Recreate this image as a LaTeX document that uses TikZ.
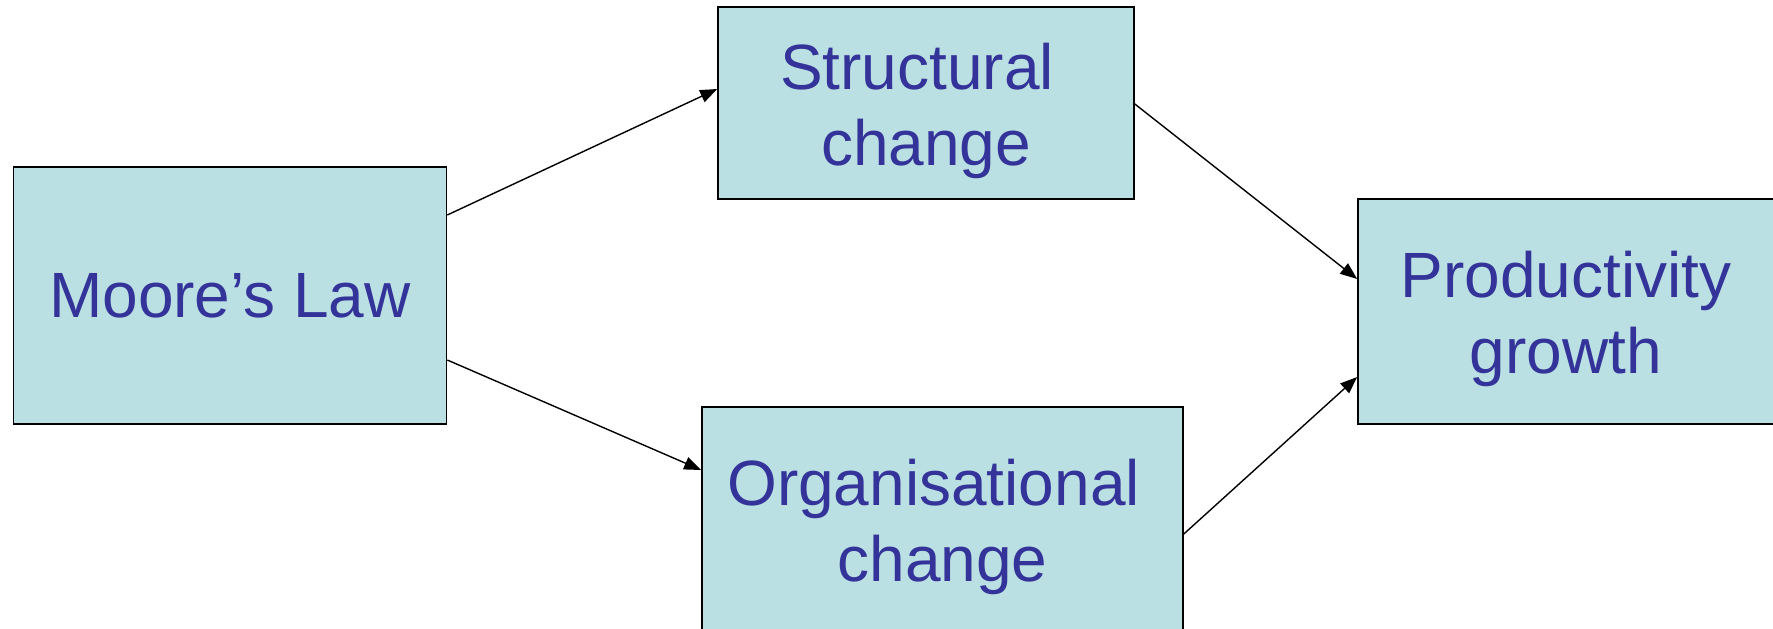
\documentclass[tikz,border=0pt]{standalone}
\usepackage{fontspec}
\setmainfont{Liberation Sans}
\usetikzlibrary{arrows.meta}
\definecolor{boxfill}{HTML}{BBE0E3}
\definecolor{boxtext}{HTML}{333399}
\begin{document}
\begin{tikzpicture}[
    x=1pt, y=-1pt,
    box/.style={rectangle, draw, line width=1.6pt, fill=boxfill, inner sep=0pt},
    boxlabel/.style={text=boxtext, align=center, inner sep=0pt, font=\fontsize{64}{76}\selectfont},
    link/.style={line width=1.4pt, -{Triangle[length=17pt, width=13pt]}}
]
\useasboundingbox (0, 0) rectangle (1773, 629);
\clip (0, 0) rectangle (1773, 629);

\node[box, boxlabel, minimum width=433pt, minimum height=257pt] (moore) at (230, 295.5) {Moore’s Law};
\node[box, minimum width=416pt, minimum height=192pt] (struct) at (926, 103) {};
\node[box, minimum width=481pt, minimum height=293pt] (org) at (942.5, 553.5) {};
\node[box, minimum width=417pt, minimum height=225pt] (prod) at (1566.5, 311.5) {};

\node[boxlabel] (structlbl) at (926, 110.8) {Structural\hspace*{0.278em}\\change};
\node[boxlabel] (orglbl) at (942.5, 526.8) {Organisational\hspace*{0.278em}\\change};
\node[boxlabel] (prodlbl) at (1566, 319) {Productivity\\growth};

\draw[link] ([yshift=80.5pt]moore.east) -- ([yshift=14pt]struct.west);
\draw[link] ([yshift=-64.5pt]moore.east) -- ([yshift=83.5pt]org.west);
\draw[link] ([yshift=-1pt]struct.east) -- ([yshift=32.5pt]prod.west);
\draw[link] ([yshift=19.5pt]org.east) -- ([yshift=-65.5pt]prod.west);

\end{tikzpicture}
\end{document}
